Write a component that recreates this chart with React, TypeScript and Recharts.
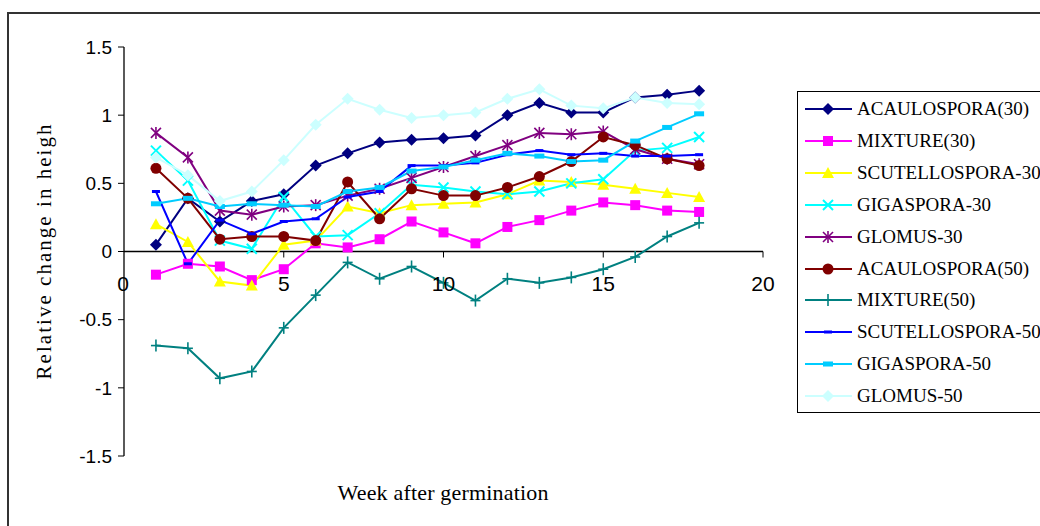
import React from "react";
import { LineChart, Line, XAxis, YAxis, ReferenceLine } from "recharts";

// weeks after germination
const WEEKS = [1, 2, 3, 4, 5, 6, 7, 8, 9, 10, 11, 12, 13, 14, 15, 16, 17, 18];

const ACAULOSPORA_30 = [0.05, 0.39, 0.22, 0.37, 0.42, 0.63, 0.72, 0.8, 0.82, 0.83, 0.85, 1.0, 1.09, 1.02, 1.02, 1.13, 1.15, 1.18];
const MIXTURE_30 = [-0.17, -0.09, -0.11, -0.21, -0.13, 0.06, 0.03, 0.09, 0.22, 0.14, 0.06, 0.18, 0.23, 0.3, 0.36, 0.34, 0.3, 0.29];
const SCUTELLOSPORA_30 = [0.2, 0.07, -0.22, -0.25, 0.05, 0.08, 0.33, 0.28, 0.34, 0.35, 0.36, 0.42, 0.52, 0.51, 0.49, 0.46, 0.43, 0.4];
const GIGASPORA_30 = [0.74, 0.52, 0.08, 0.02, 0.4, 0.11, 0.12, 0.28, 0.49, 0.47, 0.44, 0.42, 0.44, 0.5, 0.53, 0.74, 0.76, 0.84];
const GLOMUS_30 = [0.87, 0.69, 0.3, 0.27, 0.33, 0.34, 0.41, 0.46, 0.54, 0.62, 0.7, 0.78, 0.87, 0.86, 0.88, 0.75, 0.68, 0.64];
const ACAULOSPORA_50 = [0.61, 0.39, 0.09, 0.11, 0.11, 0.08, 0.51, 0.24, 0.46, 0.41, 0.41, 0.47, 0.55, 0.66, 0.84, 0.78, 0.68, 0.63];
const MIXTURE_50 = [-0.69, -0.71, -0.93, -0.88, -0.56, -0.32, -0.08, -0.2, -0.11, -0.23, -0.36, -0.2, -0.23, -0.19, -0.13, -0.04, 0.11, 0.21];
const SCUTELLOSPORA_50 = [0.44, -0.09, 0.23, 0.13, 0.22, 0.24, 0.4, 0.44, 0.63, 0.63, 0.65, 0.71, 0.74, 0.71, 0.72, 0.7, 0.7, 0.71];
const GIGASPORA_50 = [0.35, 0.39, 0.33, 0.35, 0.34, 0.33, 0.44, 0.47, 0.59, 0.62, 0.67, 0.72, 0.7, 0.66, 0.67, 0.81, 0.91, 1.01];
const GLOMUS_50 = [0.69, 0.56, 0.37, 0.44, 0.67, 0.93, 1.12, 1.04, 0.98, 1.0, 1.02, 1.12, 1.19, 1.07, 1.05, 1.13, 1.09, 1.08];

const X_TICKS = [0, 5, 10, 15, 20];
const Y_TICKS = [-1.5, -1, -0.5, 0, 0.5, 1, 1.5];

type Shape = "diamond" | "square" | "triangle" | "x" | "star" | "circle" | "plus" | "dash" | "wideDash";

const SERIES: { key: string; name: string; values: number[]; color: string; shape: Shape }[] = [
  { key: "a30", name: "ACAULOSPORA(30)", values: ACAULOSPORA_30, color: "#000080", shape: "diamond" },
  { key: "m30", name: "MIXTURE(30)", values: MIXTURE_30, color: "#ff00ff", shape: "square" },
  { key: "s30", name: "SCUTELLOSPORA-30", values: SCUTELLOSPORA_30, color: "#ffff00", shape: "triangle" },
  { key: "g30", name: "GIGASPORA-30", values: GIGASPORA_30, color: "#00ffff", shape: "x" },
  { key: "gl30", name: "GLOMUS-30", values: GLOMUS_30, color: "#800080", shape: "star" },
  { key: "a50", name: "ACAULOSPORA(50)", values: ACAULOSPORA_50, color: "#800000", shape: "circle" },
  { key: "m50", name: "MIXTURE(50)", values: MIXTURE_50, color: "#008080", shape: "plus" },
  { key: "s50", name: "SCUTELLOSPORA-50", values: SCUTELLOSPORA_50, color: "#0000ff", shape: "dash" },
  { key: "g50", name: "GIGASPORA-50", values: GIGASPORA_50, color: "#00ccff", shape: "wideDash" },
  { key: "gl50", name: "GLOMUS-50", values: GLOMUS_50, color: "#ccffff", shape: "diamond" },
];

const rows = WEEKS.map((w, i) => {
  const r: Record<string, number> = { week: w };
  SERIES.forEach((s) => (r[s.key] = s.values[i]));
  return r;
});

const PLOT_TOP = 47;
const PLOT_H = 409;
const ZERO_Y = PLOT_TOP + PLOT_H / 2;
const SERIF = "'Liberation Serif', 'Times New Roman', serif";
const SANS = "'Liberation Sans', Arial, sans-serif";

function Marker({ shape, color, cx, cy }: { shape: Shape; color: string; cx: number; cy: number }) {
  if (cx == null || cy == null) return null;
  switch (shape) {
    case "diamond":
      return <polygon points={`${cx},${cy - 6} ${cx + 6},${cy} ${cx},${cy + 6} ${cx - 6},${cy}`} fill={color} />;
    case "square":
      return <rect x={cx - 5} y={cy - 5} width={10} height={10} fill={color} />;
    case "triangle":
      return <polygon points={`${cx},${cy - 6} ${cx + 6},${cy + 5} ${cx - 6},${cy + 5}`} fill={color} />;
    case "x":
      return (
        <g stroke={color} strokeWidth={2}>
          <line x1={cx - 5} y1={cy - 5} x2={cx + 5} y2={cy + 5} />
          <line x1={cx - 5} y1={cy + 5} x2={cx + 5} y2={cy - 5} />
        </g>
      );
    case "star":
      return (
        <g stroke={color} strokeWidth={1.6}>
          <line x1={cx - 5} y1={cy - 5} x2={cx + 5} y2={cy + 5} />
          <line x1={cx - 5} y1={cy + 5} x2={cx + 5} y2={cy - 5} />
          <line x1={cx} y1={cy - 6} x2={cx} y2={cy + 6} />
        </g>
      );
    case "circle":
      return <circle cx={cx} cy={cy} r={5.5} fill={color} />;
    case "plus":
      return (
        <g stroke={color} strokeWidth={1.6}>
          <line x1={cx - 5} y1={cy} x2={cx + 5} y2={cy} />
          <line x1={cx} y1={cy - 6} x2={cx} y2={cy + 6} />
        </g>
      );
    case "dash":
      return <rect x={cx - 4} y={cy - 1.5} width={8} height={3} fill={color} />;
    case "wideDash":
      return <rect x={cx - 5} y={cy - 2.5} width={10} height={5} fill={color} />;
  }
  return null;
}

function XTick(props: any) {
  const { x, payload } = props;
  const v = payload.value;
  return (
    <g>
      {v !== 0 && <line x1={x} x2={x} y1={ZERO_Y} y2={ZERO_Y + 6} stroke="#000" />}
      <text x={v === 0 ? x - 1 : x} y={ZERO_Y + 39} textAnchor="middle" fontSize={21} fontFamily={SANS} fill="#000">
        {v}
      </text>
    </g>
  );
}

function LegendBox() {
  return (
    <div
      style={{
        position: "absolute",
        left: 797,
        top: 91,
        width: 300,
        height: 320,
        border: "1px solid #000",
        background: "#fff",
      }}
    >
      {SERIES.map((s, i) => (
        <div key={s.key} style={{ position: "absolute", left: 6, top: 3 + i * 31.9, height: 28, display: "flex", alignItems: "center" }}>
          <svg width={50} height={28}>
            <line x1={1} x2={48} y1={14} y2={14} stroke={s.color} strokeWidth={2} />
            <Marker shape={s.shape} color={s.color} cx={24} cy={14} />
          </svg>
          <span style={{ fontFamily: SERIF, fontSize: 19, color: "#000", marginLeft: 3, whiteSpace: "nowrap" }}>{s.name}</span>
        </div>
      ))}
    </div>
  );
}

export default function App() {
  return (
    <div style={{ position: "fixed", left: 0, top: 0, width: 1040, height: 526, overflow: "hidden", background: "#fff" }}>
      <div style={{ position: "absolute", left: 7, top: 12, width: 1100, height: 600, border: "2px solid #333" }} />
      <div style={{ position: "absolute", left: 0, top: 0 }}>
        <LineChart width={1040} height={526} data={rows} margin={{ top: PLOT_TOP, right: 277, left: 64, bottom: 40 }}>
          <XAxis
            dataKey="week"
            type="number"
            domain={[0, 20]}
            ticks={X_TICKS}
            axisLine={false}
            tickLine={false}
            height={30}
            tick={<XTick />}
            interval={0}
          />
          <YAxis
            type="number"
            domain={[-1.5, 1.5]}
            ticks={Y_TICKS}
            width={60}
            interval={0}
            axisLine={{ stroke: "#000", strokeWidth: 1.3 }}
            tickLine={{ stroke: "#000" }}
            tickSize={6}
            tickMargin={6}
            tick={{ fill: "#000", fontSize: 19, fontFamily: SANS }}
          />
          <ReferenceLine y={0} stroke="#000" strokeWidth={1.3} />
          {SERIES.map((s) => (
            <Line
              key={s.key}
              dataKey={s.key}
              name={s.name}
              type="linear"
              stroke={s.color}
              strokeWidth={2}
              isAnimationActive={false}
              activeDot={false}
              dot={(p: any) => <Marker key={`${s.key}-${p.index}`} shape={s.shape} color={s.color} cx={p.cx} cy={p.cy} />}
            />
          ))}
        </LineChart>
      </div>
      <svg width={1040} height={526} style={{ position: "absolute", left: 0, top: 0, pointerEvents: "none" }}>
        <text x={443} y={500} textAnchor="middle" fontSize={22} fontFamily={SERIF} fill="#000" textLength={211} lengthAdjust="spacing">
          Week after germination
        </text>
        <text
          x={0}
          y={0}
          transform="translate(51 252) rotate(-90)"
          textAnchor="middle"
          fontSize={21}
          fontFamily={SERIF}
          fill="#000"
          textLength={255}
          lengthAdjust="spacing"
        >
          Relative change in heigh
        </text>
      </svg>
      <LegendBox />
    </div>
  );
}
